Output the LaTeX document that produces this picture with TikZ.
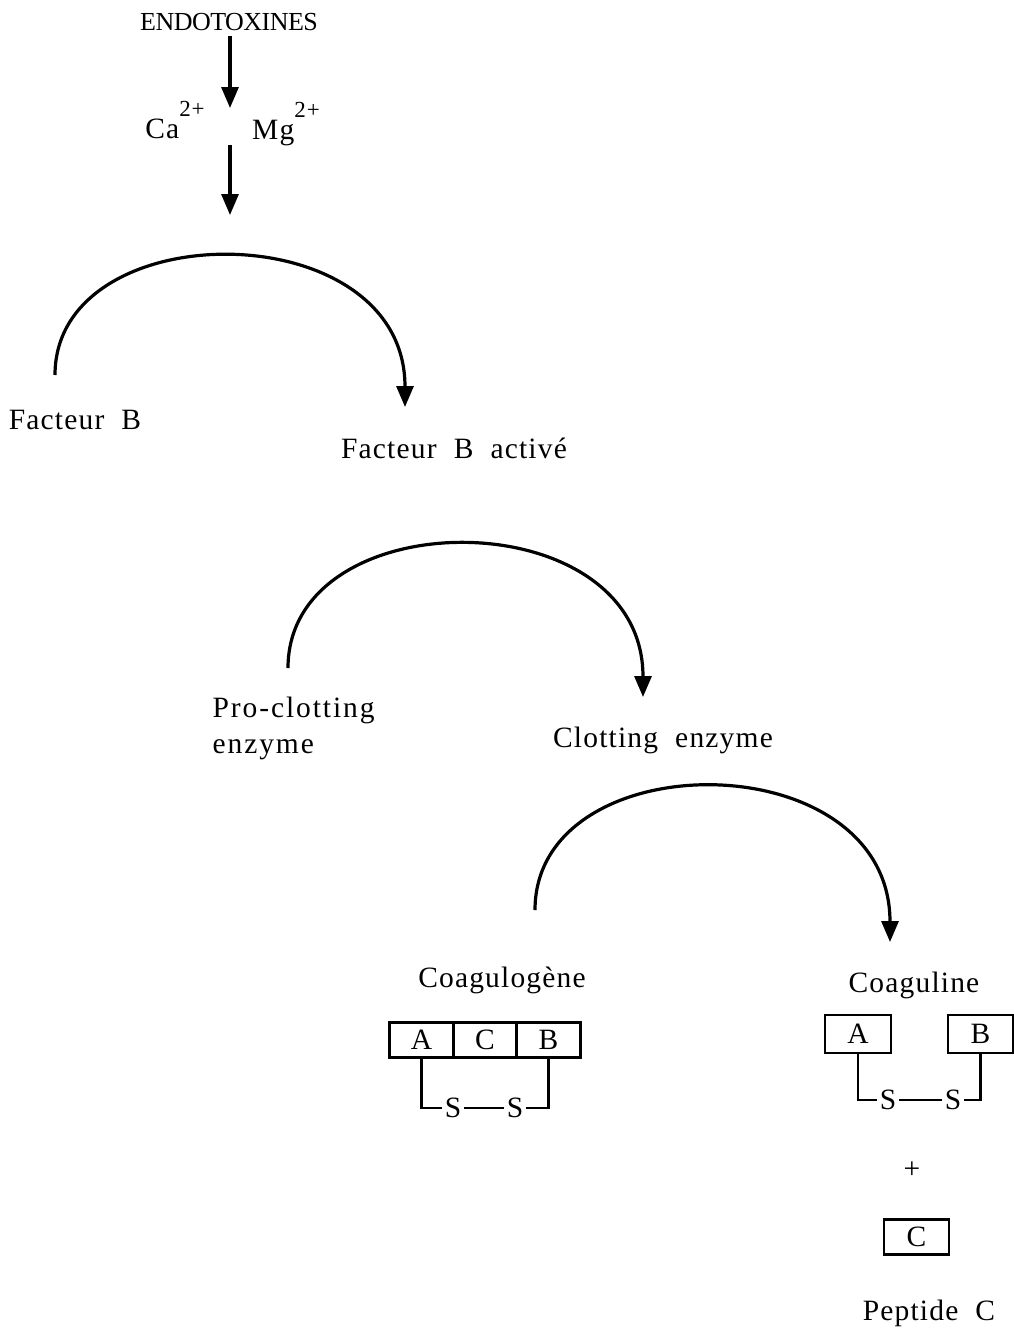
\documentclass[tikz,border=0pt]{standalone}
\usepackage{fontspec}
\setmainfont[LetterSpace=4]{Liberation Serif}
\usetikzlibrary{arrows.meta}

\begin{document}
\begin{tikzpicture}[x=1pt,y=-1pt,>={Triangle[length=21pt,width=17pt]},line width=3.2pt,font=\fontsize{29.5}{36}\selectfont,
  seg/.style={draw,line width=2.8pt,minimum height=35pt,inner sep=0pt},
  sul/.style={inner sep=1.5pt}]
                \useasboundingbox (0,0) rectangle (1014,1331);
                \node (endo) at (229,22) {\fontsize{26}{30}\selectfont\addfontfeatures{LetterSpace=-2}ENDOTOXINES};
                \node (ca) at (175,120) {Ca\raisebox{22pt}{\fontsize{23}{26}\selectfont 2+}};
                \node (mg) at (286,124) {Mg\raisebox{22pt}{\fontsize{23}{26}\selectfont 2+}};
                \coordinate (c1) at (230,108);
                \coordinate (c2) at (230,145);
                \coordinate (c3) at (230,215);
                \draw[->] (endo.south)++(1,0) -- (c1);
                \draw[->] (c2) -- (c3);
                % premiere etape
                \node (fb) at (75,420) {Facteur~~B};
                \node (fba) at (454,448) {Facteur~~B~~activé};
                \coordinate (a1) at (55,375);
                \coordinate (b1) at (405,407);
                \draw[->] (a1) .. controls (55,212) and (405,212) .. (b1);
                % deuxieme etape
                \node[align=left,anchor=west,inner sep=0pt] (pce) at (211,728) {\addfontfeatures{LetterSpace=6.5}Pro-clotting\\\addfontfeatures{LetterSpace=6.5}enzyme};
                \node (ce) at (663,740) {Clotting~~enzyme};
                \coordinate (a2) at (288,668);
                \coordinate (b2) at (643,697);
                \draw[->] (a2) .. controls (288,499) and (643,499) .. (b2);
                % troisieme etape
                \node (cgn) at (502,980) {Coagulogène};
                \node (cgl) at (914,985) {Coaguline};
                \coordinate (a3) at (535,910);
                \coordinate (b3) at (890,942);
                \draw[->] (a3) .. controls (535,741) and (890,741) .. (b3);
                % coagulogene
                \node[seg,minimum width=63.5pt] (gA) at (421.5,1040) {A};
                \node[seg,minimum width=64pt] (gC) at (485,1040) {C};
                \node[seg,minimum width=63.5pt] (gB) at (548.5,1040) {B};
                \node[sul] (gs1) at (453,1108) {S};
                \node[sul] (gs2) at (515,1108) {S};
                \draw[line width=2.8pt] (gA.south) |- (gs1.west);
                \draw[line width=2.8pt] (gs1) -- (gs2);
                \draw[line width=2.8pt] (gs2.east) -| (gB.south);
                % coaguline
                \node[seg,minimum width=66pt,minimum height=38pt] (lA) at (858,1034) {A};
                \node[seg,minimum width=65pt,minimum height=38pt] (lB) at (980.5,1034) {B};
                \node[sul] (ls1) at (888,1100) {S};
                \node[sul] (ls2) at (953,1100) {S};
                \draw[line width=2.8pt] (lA.south) |- (ls1.west);
                \draw[line width=2.8pt] (ls1) -- (ls2);
                \draw[line width=2.8pt] (ls2.east) -| (lB.south);
                \node (plus) at (912,1170) {+};
                \node[seg,minimum width=65pt] (pC) at (916.5,1237) {C};
                \node (pep) at (929,1313) {Peptide~~C};
            \end{tikzpicture}
\end{document}
